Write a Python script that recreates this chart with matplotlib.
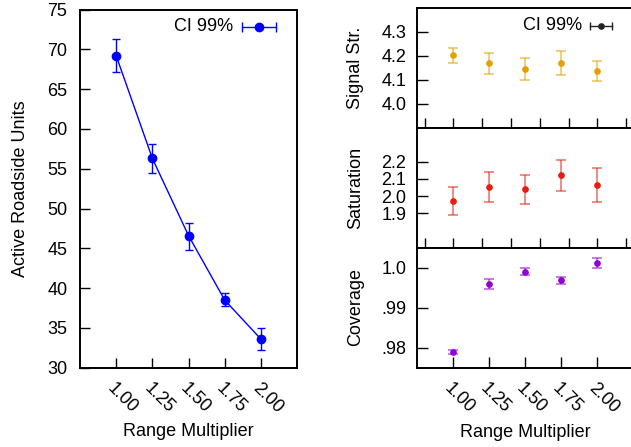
import numpy as np
import matplotlib
matplotlib.use('Agg')
import matplotlib.pyplot as plt
from matplotlib.transforms import ScaledTranslation

plt.rcParams['font.family'] = ['Liberation Sans', 'DejaVu Sans']
plt.rcParams['font.size'] = 13

# data
multipliers = [1.00, 1.25, 1.50, 1.75, 2.00]
mult_labels = ['1.00', '1.25', '1.50', '1.75', '2.00']

units = [69.2, 56.3, 46.6, 38.5, 33.6]
units_lo = [67.1, 54.5, 44.8, 37.7, 32.2]
units_hi = [71.3, 58.1, 48.2, 39.4, 35.0]

signal = [4.201, 4.167, 4.145, 4.168, 4.137]
signal_lo = [4.170, 4.124, 4.099, 4.120, 4.094]
signal_hi = [4.233, 4.210, 4.189, 4.217, 4.179]

saturation = [1.973, 2.053, 2.039, 2.122, 2.067]
saturation_lo = [1.888, 1.967, 1.953, 2.028, 1.967]
saturation_hi = [2.055, 2.141, 2.124, 2.212, 2.165]

coverage = [0.9789, 0.9959, 0.9990, 0.9968, 1.0012]
coverage_err = [0.0006, 0.0012, 0.0009, 0.0008, 0.0012]


def yerr(mid, lo, hi):
    mid = np.array(mid)
    return [mid - np.array(lo), np.array(hi) - mid]


def style(ax, ylen=7):
    for s in ax.spines.values():
        s.set_linewidth(1.4)
    ax.tick_params(direction='in', length=ylen, width=1, top=False, right=False)


def rot_labels(ax, fig):
    ax.set_xticks(multipliers)
    ax.set_xticklabels(mult_labels, rotation=-45, ha='left', va='top',
                       rotation_mode='anchor')
    off = ScaledTranslation(-5 / 100, 0, fig.dpi_scale_trans)
    for lab in ax.get_xticklabels():
        lab.set_transform(lab.get_transform() + off)
    ax.tick_params(axis='x', pad=9)


def legend_sample(ax, x_text, y, x0, x1, color, ms, cap):
    ax.text(x_text, y, 'CI 99%', transform=ax.transAxes, ha='right', va='center')
    ax.plot([x0, x1], [y, y], transform=ax.transAxes, color=color, lw=1, clip_on=False)
    ax.plot([x0, x1], [y, y], transform=ax.transAxes, color=color, ls='none',
            marker='|', ms=cap, mew=1, clip_on=False)
    ax.plot([(x0 + x1) / 2], [y], transform=ax.transAxes, color=color, marker='o',
            ms=ms, clip_on=False)


fig = plt.figure(figsize=(6.31, 4.47), dpi=100)

# left panel
ax = fig.add_axes([80 / 631, 1 - 367.7 / 447, 217 / 631, 358.2 / 447])
ax.errorbar(multipliers, units, yerr=yerr(units, units_lo, units_hi), color='#0000ff',
            fmt='-o', lw=1, ms=6, elinewidth=1, capsize=3, capthick=1)
ax.set_xlim(0.75, 2.25)
ax.set_ylim(30, 75)
ax.set_yticks(range(30, 76, 5))
style(ax)
ax.tick_params(axis='y', pad=9)
rot_labels(ax, fig)
ax.set_ylabel('Active Roadside Units', fontsize=13)
ax.yaxis.set_label_coords(-0.237, 0.5)
ax.set_xlabel('Range Multiplier', fontsize=13)
ax.xaxis.set_label_coords(0.5, -0.155)
legend_sample(ax, 0.705, 0.952, 0.747, 0.903, '#0000ff', 6, 7)

# right panels
left = 417.3 / 631
width = 216 / 631
tops = [7.5, 127.5, 247.5]
panels = [
    ('Signal Str.', signal, yerr(signal, signal_lo, signal_hi), '#e69f00',
     (3.9, 4.4), [4.0, 4.1, 4.2, 4.3], ['4.0', '4.1', '4.2', '4.3']),
    ('Saturation', saturation, yerr(saturation, saturation_lo, saturation_hi), '#e51e10',
     (1.7, 2.4), [1.9, 2.0, 2.1, 2.2], ['1.9', '2.0', '2.1', '2.2']),
    ('Coverage', coverage, coverage_err, '#9400d3',
     (0.975, 1.005), [0.98, 0.99, 1.0], ['.98', '.99', '1.0']),
]
for i, (label, vals, err, color, ylim, yt, ytl) in enumerate(panels):
    top = tops[i]
    a = fig.add_axes([left, 1 - (top + 120) / 447, width, 120 / 447])
    a.errorbar(multipliers, vals, yerr=err, fmt='none', ecolor=color, alpha=0.6,
               elinewidth=1.2, capsize=3.5, capthick=1.2)
    a.plot(multipliers, vals, 'o', color=color, ms=3.8)
    a.set_xlim(0.75, 2.25)
    a.set_ylim(*ylim)
    a.set_yticks(yt)
    a.set_yticklabels(ytl)
    style(a, ylen=8)
    a.tick_params(axis='y', pad=8)
    a.set_ylabel(label, fontsize=13)
    a.yaxis.set_label_coords(-0.245, 0.5)
    if i < 2:
        a.set_xticks(np.arange(0.8, 2.21, 0.2))
        a.tick_params(axis='x', labelbottom=False, length=7)
    else:
        rot_labels(a, fig)
        a.set_xlabel('Range Multiplier', fontsize=13)
        a.xaxis.set_label_coords(0.5, -0.47)
    if i == 0:
        legend_sample(a, 0.7625, 0.848, 0.80, 0.90, '#222222', 3.8, 6)

fig.savefig('out.png', dpi=100)
